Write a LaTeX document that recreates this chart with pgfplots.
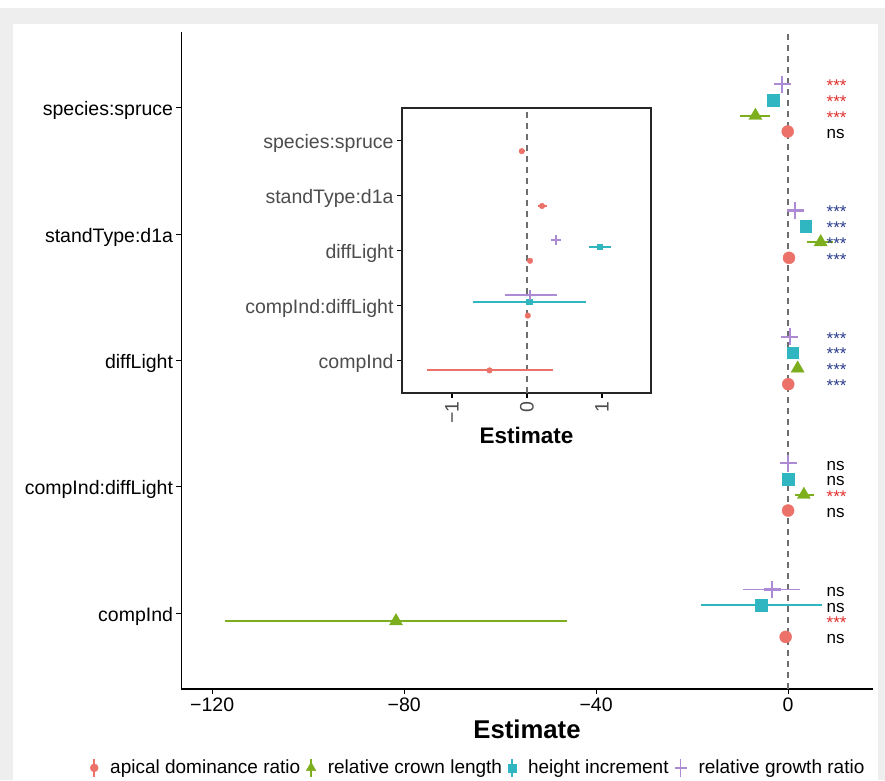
\documentclass[border=0pt]{standalone}
\usepackage{fontspec}
\setmainfont{Liberation Sans}
\usepackage{pgfplots}
\usepackage{pgfplotstable}
\pgfplotsset{compat=1.18}

\definecolor{cApical}{HTML}{EC7168}
\definecolor{cCrown}{HTML}{7CAE1E}
\definecolor{cHeight}{HTML}{2FB6C0}
\definecolor{cGrowth}{HTML}{AC8AD4}
\definecolor{starRed}{HTML}{E0302C}
\definecolor{starBlue}{HTML}{2B3D8E}
\definecolor{panelGray}{HTML}{EEEEEE}
\definecolor{inGray}{HTML}{4D4D4D}
\definecolor{zeroGray}{HTML}{6E6E6E}

% y = category (1 compInd ... 5 species:spruce) + dodge offset
\pgfplotstableread{
y      x      em    ep
0.8125 -0.50  0.84  0.85
1.8125  0.01  0.02  0.02
2.8125  0.04  0.02  0.02
3.8125  0.20  0.06  0.07
4.8125 -0.07  0.04  0.04
}\apical
\pgfplotstableread{
y      x      em    ep
0.9375 -81.7  35.7  35.7
1.9375  3.3   1.8   2.1
2.9375  2.0   0.5   0.5
3.9375  6.8   2.8   2.5
4.9375 -6.8   3.2   3.1
}\crown
\pgfplotstableread{
y      x      em    ep
1.0625 -5.6   12.6  12.6
2.0625  0.03  0.75  0.76
3.0625  0.97  0.14  0.15
4.0625  3.7   0.5   0.5
5.0625 -3.1   0.5   0.5
}\height
\pgfplotstableread{
y      x      em    ep
1.1875 -3.3   6.0   5.8
2.1875  0.04  0.34  0.36
3.1875  0.39  0.05  0.05
4.1875  1.5   0.4   0.4
5.1875 -1.2   0.3   0.3
}\growth
\pgfplotstableread{
y      x      em    ep
2.0625  0.03  0.75  0.76
3.0625  0.97  0.14  0.15
}\heightIn
\pgfplotstableread{
y      x      em    ep
2.1875  0.04  0.34  0.36
3.1875  0.39  0.05  0.05
}\growthIn
\pgfplotstableread{
y      x  lab
5.1875 8  ***
5.0625 8  ***
4.9375 8  ***
1.9375 8  ***
0.9375 8  ***
}\starsRed
\pgfplotstableread{
y      x  lab
4.1875 8  ***
4.0625 8  ***
3.9375 8  ***
3.8125 8  ***
3.1875 8  ***
3.0625 8  ***
2.9375 8  ***
2.8125 8  ***
}\starsBlue
\pgfplotstableread{
y      x  lab
4.8125 8  ns
2.1875 8  ns
2.0625 8  ns
1.8125 8  ns
1.1875 8  ns
1.0625 8  ns
0.8125 8  ns
}\nsLabels

\pgfplotsset{
  ebar/.style={error bars/.cd, x dir=both, x explicit, error mark=none,
    error bar style={line width=1.9pt, #1}},
  zeroline/.style={zeroGray, line width=1.4pt, dash pattern=on 6pt off 5pt},
  lab/.style={forget plot, only marks, mark=none, nodes near coords,
    point meta=explicit symbolic},
}

\begin{document}
\begin{tikzpicture}
% canvas 885 x 780 px, origin at the main axis' lower left corner (px 181.5, 689)
\fill[white] (-181.5pt,-91pt) rectangle (703.5pt,689pt);
\fill[panelGray] (-181.5pt,-91pt) rectangle (703.5pt,681pt);
\fill[white] (-168.5pt,-91pt) rectangle (696.5pt,665pt);
\useasboundingbox (-181.5pt,-91pt) rectangle (703.5pt,689pt);

\begin{axis}[
  name=main, at={(0pt,0pt)}, anchor=south west,
  scale only axis, width=691pt, height=657pt,
  xmin=-126.4, xmax=17.6, ymin=0.4, ymax=5.6,
  axis x line*=bottom, axis y line*=left,
  axis line style={-, line width=1.2pt, black},
  tick align=outside, major tick length=5pt,
  tick style={line width=1.1pt, black},
  xtick={-120,-80,-40,0}, xticklabels={−120,−80,−40,0},
  ytick={1,2,3,4,5},
  yticklabels={compInd,compInd:diffLight,diffLight,standType:d1a,species:spruce},
  tick label style={font=\fontsize{19.5}{22}\selectfont, black},
  yticklabel style={yshift=-3pt},
  xlabel={Estimate},
  xlabel style={font=\fontsize{25.7}{28}\selectfont\bfseries, anchor=base,
    at={(axis description cs:0.5,-0.0746)}},
  clip=false,
  legend columns=4,
  legend style={at={(axis description cs:-0.1324,-0.120)}, anchor=west,
    draw=none, fill=none, inner sep=0pt,
    font=\fontsize{19}{22}\selectfont,
    nodes={inner sep=0pt},
    /tikz/every odd column/.append style={column sep=12pt},
    /tikz/every even column/.append style={column sep=6pt}},
  legend image code/.code={
    \draw[line width=1.6pt, mark=none, #1] (0pt,-9pt) -- (0pt,9pt);
    \draw[#1] plot coordinates {(0pt,0pt)};
  },
]
\addplot[forget plot, zeroline] coordinates {(0,0.4) (0,5.6)};

\addplot[forget plot, only marks, mark=*, mark size=6pt, color=cApical, ebar=cApical]
  table[x=x, y=y, x error minus=em, x error plus=ep] {\apical};
\addplot[forget plot, only marks, mark=triangle*, mark size=7.5pt, color=cCrown, ebar=cCrown]
  table[x=x, y=y, x error minus=em, x error plus=ep] {\crown};
\addplot[forget plot, only marks, mark=square*, mark size=5.8pt, color=cHeight, ebar=cHeight]
  table[x=x, y=y, x error minus=em, x error plus=ep] {\height};
\addplot[forget plot, only marks, mark=+, mark size=8.5pt, mark options={line width=2.4pt},
  color=cGrowth, ebar=cGrowth]
  table[x=x, y=y, x error minus=em, x error plus=ep] {\growth};

\addplot[lab, nodes near coords style={anchor=west, inner sep=0pt, yshift=-1.5pt,
    text=starRed, font=\fontsize{17}{20}\selectfont}]
  table[x=x, y=y, meta=lab] {\starsRed};
\addplot[lab, nodes near coords style={anchor=west, inner sep=0pt, yshift=-1.5pt,
    text=starBlue, font=\fontsize{17}{20}\selectfont}]
  table[x=x, y=y, meta=lab] {\starsBlue};
\addplot[lab, nodes near coords style={anchor=west, inner sep=0pt, yshift=-2.5pt,
    text=black, font=\fontsize{17}{20}\selectfont}]
  table[x=x, y=y, meta=lab] {\nsLabels};

\addlegendimage{mark=*, mark size=4pt, color=cApical}
\addlegendentry{apical dominance ratio}
\addlegendimage{mark=triangle*, mark size=5.5pt, color=cCrown}
\addlegendentry{relative crown length}
\addlegendimage{mark=square*, mark size=4pt, color=cHeight}
\addlegendentry{height increment}
\addlegendimage{mark=+, mark size=6pt, mark options={line width=1.8pt}, color=cGrowth}
\addlegendentry{relative growth ratio}
\end{axis}

% inset: box at px (402,108)-(651,393)
\begin{axis}[
  at={(220.5pt,296pt)}, anchor=south west,
  scale only axis, width=249pt, height=285pt,
  xmin=-1.667, xmax=1.653, ymin=0.4, ymax=5.6,
  axis background/.style={fill=white},
  axis line style={line width=1.2pt, black!85},
  tick pos=left, tick align=outside, major tick length=5pt,
  tick style={line width=1.1pt, black},
  xtick={-1,0,1}, xticklabels={−1,0,1},
  xticklabel style={rotate=90, anchor=east},
  ytick={1,2,3,4,5},
  yticklabels={compInd,compInd:diffLight,diffLight,standType:d1a,species:spruce},
  tick label style={font=\fontsize{19.5}{22}\selectfont, text=inGray},
  yticklabel style={yshift=-3pt},
  xlabel={Estimate},
  xlabel style={font=\fontsize{22.5}{26}\selectfont\bfseries, anchor=base,
    at={(axis description cs:0.5,-0.176)}},
]
\addplot[zeroline] coordinates {(0,0.4) (0,5.6)};
\addplot[only marks, mark=*, mark size=2.8pt, color=cApical, ebar=cApical]
  table[x=x, y=y, x error minus=em, x error plus=ep] {\apical};
\addplot[only marks, mark=square*, mark size=2.6pt, color=cHeight, ebar=cHeight]
  table[x=x, y=y, x error minus=em, x error plus=ep] {\heightIn};
\addplot[only marks, mark=+, mark size=4.8pt, mark options={line width=2pt},
  color=cGrowth, ebar=cGrowth]
  table[x=x, y=y, x error minus=em, x error plus=ep] {\growthIn};
\end{axis}
\end{tikzpicture}
\end{document}
